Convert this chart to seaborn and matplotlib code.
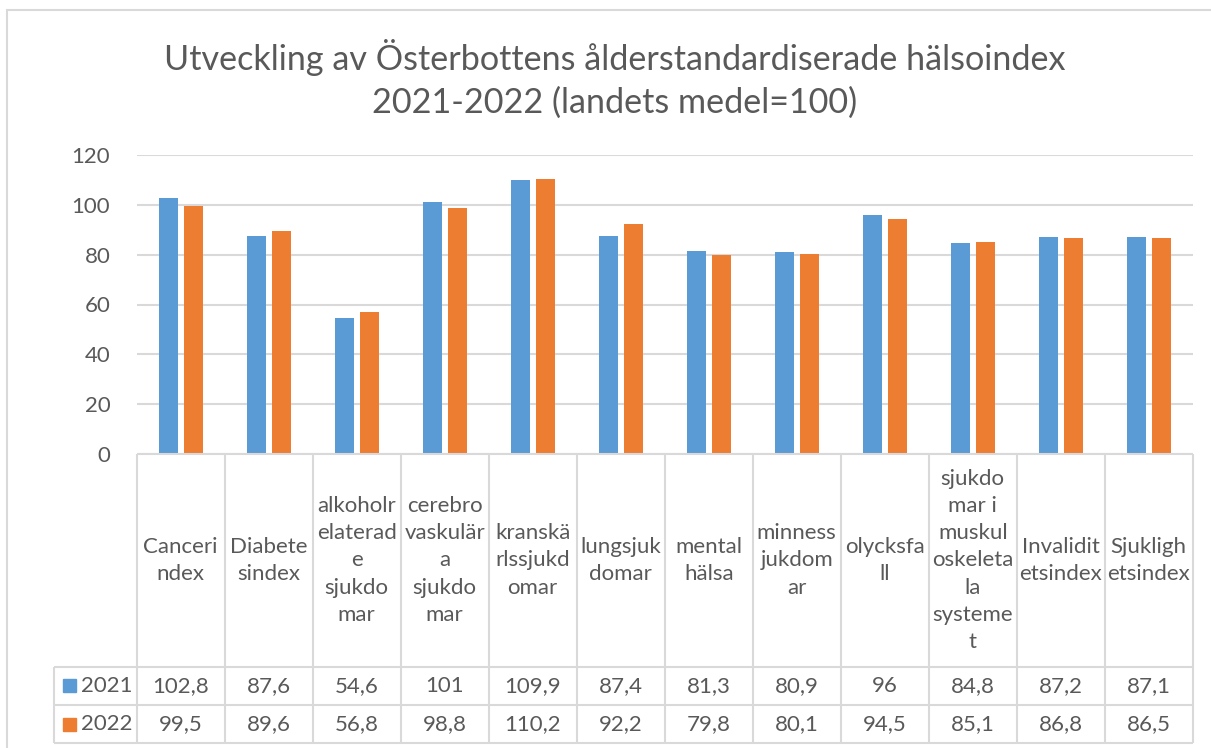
import matplotlib
matplotlib.use("Agg")
import matplotlib.pyplot as plt
from matplotlib import font_manager
import seaborn as sns
import pandas as pd

# ---------------- data ----------------
categories = [
    "Canceri\nndex",
    "Diabete\nsindex",
    "alkoholr\nelaterad\ne\nsjukdo\nmar",
    "cerebro\nvaskulär\na\nsjukdo\nmar",
    "kranskä\nrlssjukd\nomar",
    "lungsjuk\ndomar",
    "mental\nhälsa",
    "minness\njukdom\nar",
    "olycksfa\nll",
    "sjukdo\nmar i\nmuskul\noskeleta\nla\nsysteme\nt",
    "Invalidit\netsindex",
    "Sjukligh\netsindex",
]
years = ["2021", "2022"]
values_2021 = [102.8, 87.6, 54.6, 101, 109.9, 87.4, 81.3, 80.9, 96, 84.8, 87.2, 87.1]
values_2022 = [99.5, 89.6, 56.8, 98.8, 110.2, 92.2, 79.8, 80.1, 94.5, 85.1, 86.8, 86.5]
yticks = [0, 20, 40, 60, 80, 100, 120]
title = "Utveckling av Österbottens ålderstandardiserade hälsoindex\n2021-2022 (landets medel=100)"

# ---------------- style ----------------
sns.set_theme(style="white")
avail = {f.name for f in font_manager.fontManager.ttflist}
fam = "Liberation Sans Narrow" if "Liberation Sans Narrow" in avail else "Lato"
plt.rcParams["font.family"] = [fam, "DejaVu Sans"]

BLUE = "#5B9BD5"
ORANGE = "#ED7D31"
TXT = "#595959"
GRID = "#D9D9D9"

W, H = 1211, 748
fig = plt.figure(figsize=(W / 100, H / 100), dpi=100)

def fx(px):
    return px / W

def fy(py):
    return 1 - py / H

# plot area
ax_l, ax_r = 136.7, 1192.7
ax_t, ax_b = 155, 454
ax = fig.add_axes([fx(ax_l), fy(ax_b), fx(ax_r) - fx(ax_l), fy(ax_t) - fy(ax_b)])

df = pd.DataFrame({
    "kategori": categories * 2,
    "år": [years[0]] * len(categories) + [years[1]] * len(categories),
    "värde": values_2021 + values_2022,
})

sns.barplot(data=df, x="kategori", y="värde", hue="år", palette=[BLUE, ORANGE],
            width=0.568, gap=0.225, ax=ax, legend=False, linewidth=0,
            saturation=1, err_kws={"linewidth": 0})
ax.set_xlim(-0.5, len(categories) - 0.5)
ax.set_ylim(0, 120)
ax.set_yticks(yticks)
ax.set_yticklabels([str(t) for t in yticks], fontsize=16, color=TXT)
ax.tick_params(axis="y", length=0, pad=19)
ax.set_xticks([])
ax.set_xlabel("")
ax.set_ylabel("")
for s in ax.spines.values():
    s.set_visible(False)
ax.yaxis.grid(True, color=GRID, linewidth=1.5)
ax.set_axisbelow(True)

# ---------------- data table ----------------
tab_t, tab_b = 454, 743.3
row1, row2 = 666.7, 705
tax = fig.add_axes([fx(ax_l), fy(tab_b), fx(ax_r) - fx(ax_l), fy(tab_t) - fy(tab_b)])
tax.set_xlim(-0.5, len(categories) - 0.5)
tax.set_ylim(tab_b, tab_t)
tax.axis("off")

n = len(categories)
hdr_left = -0.5 - (ax_l - 53.5) / ((ax_r - ax_l) / n)
lkw = dict(color=GRID, linewidth=1.5, clip_on=False, solid_capstyle="butt")
# horizontal lines
tax.plot([-0.5, n - 0.5], [tab_t, tab_t], **lkw)
for yy in (row1, row2, tab_b):
    tax.plot([hdr_left, n - 0.5], [yy, yy], **lkw)
# vertical lines
for i in range(n + 1):
    tax.plot([i - 0.5, i - 0.5], [tab_t, tab_b], **lkw)
tax.plot([hdr_left, hdr_left], [row1, tab_b], **lkw)

fs = 16
for i, lab in enumerate(categories):
    tax.text(i, (tab_t + row1) / 2, lab, ha="center", va="center", fontsize=fs,
             color=TXT, linespacing=1.45)
    tax.text(i, (row1 + row2) / 2, f"{values_2021[i]:g}".replace(".", ","),
             ha="center", va="center", fontsize=fs, color=TXT)
    tax.text(i, (row2 + tab_b) / 2, f"{values_2022[i]:g}".replace(".", ","),
             ha="center", va="center", fontsize=fs, color=TXT)

# legend keys in row headers
unit = (ax_r - ax_l) / n
for (y0, y1), yr, col in (((row1, row2), years[0], BLUE), ((row2, tab_b), years[1], ORANGE)):
    yc = (y0 + y1) / 2
    kx = -0.5 - (ax_l - 62.5) / unit
    kw = 13 / unit
    tax.add_patch(plt.Rectangle((kx, yc - 6.5), kw, 13, color=col, clip_on=False))
    tax.text(-0.5 - (ax_l - 81) / unit, yc, yr, ha="left", va="center",
             fontsize=fs, color=TXT, clip_on=False)

# title
fig.text(fx(615), fy(79), title, ha="center", va="center", fontsize=24.6,
         color=TXT, linespacing=1.38)

# chart border (left and top visible)
fig.add_artist(plt.Line2D([fx(7), fx(7)], [fy(10), fy(H + 5)], color=GRID,
                          linewidth=1.5, transform=fig.transFigure))
fig.add_artist(plt.Line2D([fx(7), fx(W + 5)], [fy(10), fy(10)], color=GRID,
                          linewidth=1.5, transform=fig.transFigure))

fig.savefig("out.png", dpi=100, facecolor="white")
